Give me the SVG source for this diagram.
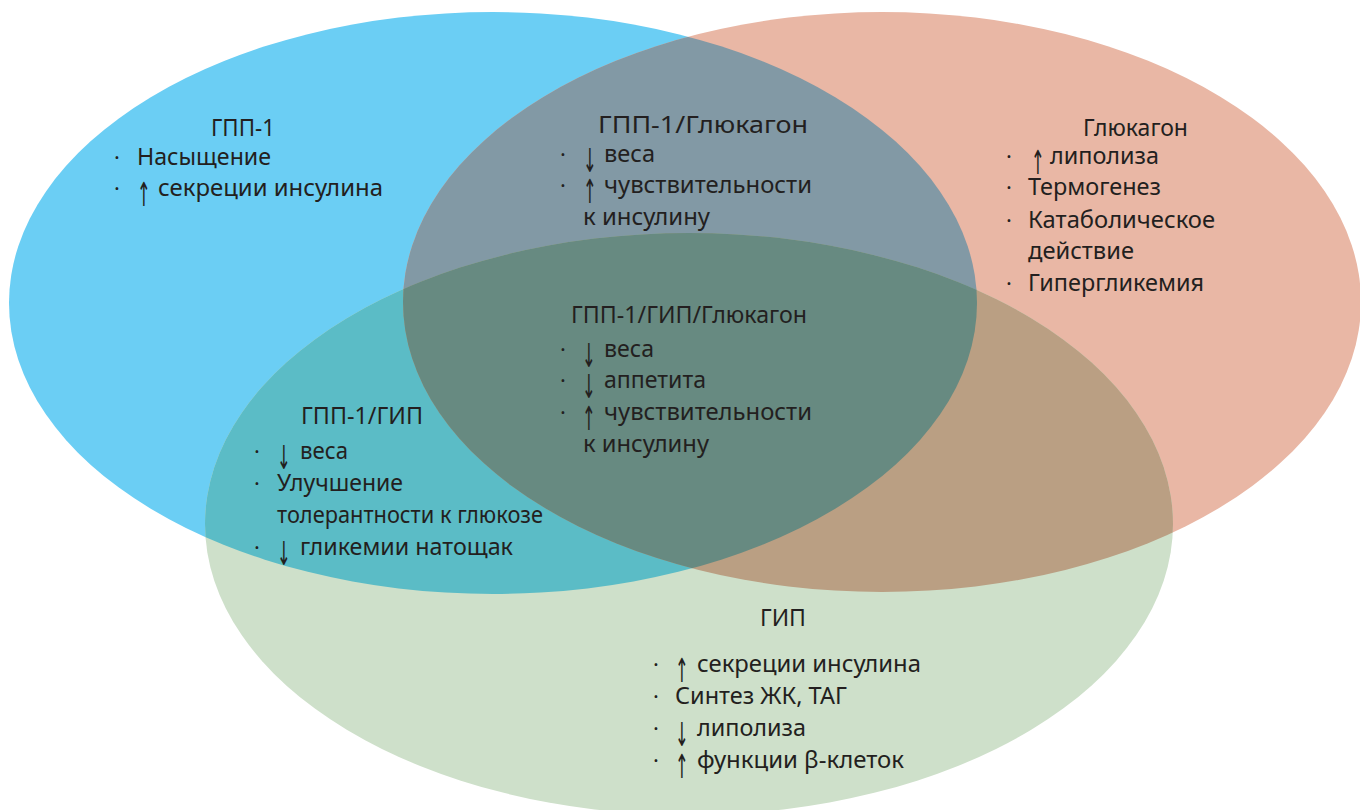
<svg xmlns="http://www.w3.org/2000/svg" width="1360" height="810" viewBox="0 0 1360 810">
<style>
text{font-family:"Noto Sans","Open Sans","Liberation Sans",sans-serif;font-size:23px;fill:#231F20}
.b{font-size:22px}
.a{font-family:"DejaVu Sans",sans-serif;font-size:30px;text-anchor:middle}
</style>
<defs>
<clipPath id="cB"><ellipse cx="493" cy="303" rx="484" ry="291"/></clipPath>
<clipPath id="cS"><ellipse cx="882" cy="302" rx="479" ry="290"/></clipPath>
</defs>
<rect width="1360" height="810" fill="#FFFFFF"/>
<g id="circles">
<ellipse id="e-glp1" cx="493" cy="303" rx="484" ry="291" fill="#6BCEF4"/>
<ellipse id="e-glucagon" cx="882" cy="302" rx="479" ry="290" fill="#E9B7A5"/>
<ellipse id="e-gip" cx="689" cy="524" rx="484" ry="291" fill="#CEE0CA"/>
<ellipse cx="882" cy="302" rx="479" ry="290" fill="#8299A5" clip-path="url(#cB)"/>
<ellipse cx="689" cy="524" rx="484" ry="291" fill="#5BBCC6" clip-path="url(#cB)"/>
<ellipse cx="689" cy="524" rx="484" ry="291" fill="#BA9F83" clip-path="url(#cS)"/>
<g clip-path="url(#cB)"><ellipse cx="689" cy="524" rx="484" ry="291" fill="#678A81" clip-path="url(#cS)"/></g>
</g>
<g id="connectors"/>
<g id="node-glp1">
<text x="211" y="136" textLength="64" lengthAdjust="spacingAndGlyphs">ГПП-1</text>
<text class="b" x="114" y="165">·</text>
<text x="137" y="165" textLength="134" lengthAdjust="spacingAndGlyphs">Насыщение</text>
<text class="b" x="114" y="196">·</text>
<text class="a" transform="translate(144,206) scale(0.55,1.1)">↑</text>
<text x="158" y="196" textLength="225" lengthAdjust="spacingAndGlyphs">секреции инсулина</text>
</g>
<g id="node-glp1-glucagon">
<text x="598" y="133" textLength="210" lengthAdjust="spacingAndGlyphs">ГПП-1/Глюкагон</text>
<text class="b" x="560" y="162">·</text>
<text class="a" transform="translate(590,172) scale(0.55,1.1)">↓</text>
<text x="604" y="162" textLength="51" lengthAdjust="spacingAndGlyphs">веса</text>
<text class="b" x="560" y="193">·</text>
<text class="a" transform="translate(590,203) scale(0.55,1.1)">↑</text>
<text x="604" y="193" textLength="208" lengthAdjust="spacingAndGlyphs">чувствительности</text>
<text x="583" y="225" textLength="127" lengthAdjust="spacingAndGlyphs">к инсулину</text>
</g>
<g id="node-glucagon">
<text x="1083" y="136" textLength="105" lengthAdjust="spacingAndGlyphs">Глюкагон</text>
<text class="b" x="1006" y="164">·</text>
<text class="a" transform="translate(1038,174) scale(0.55,1.1)">↑</text>
<text x="1050" y="164" textLength="109" lengthAdjust="spacingAndGlyphs">липолиза</text>
<text class="b" x="1006" y="195">·</text>
<text x="1028" y="195" textLength="133" lengthAdjust="spacingAndGlyphs">Термогенез</text>
<text class="b" x="1006" y="228">·</text>
<text x="1028" y="228" textLength="187" lengthAdjust="spacingAndGlyphs">Катаболическое</text>
<text x="1028" y="259" textLength="106" lengthAdjust="spacingAndGlyphs">действие</text>
<text class="b" x="1006" y="291">·</text>
<text x="1028" y="291" textLength="176" lengthAdjust="spacingAndGlyphs">Гипергликемия</text>
</g>
<g id="node-triple">
<text x="571" y="323" textLength="236" lengthAdjust="spacingAndGlyphs">ГПП-1/ГИП/Глюкагон</text>
<text class="b" x="560" y="357">·</text>
<text class="a" transform="translate(589,367) scale(0.55,1.1)">↓</text>
<text x="604" y="357" textLength="50" lengthAdjust="spacingAndGlyphs">веса</text>
<text class="b" x="560" y="388">·</text>
<text class="a" transform="translate(589,398) scale(0.55,1.1)">↓</text>
<text x="604" y="388" textLength="102" lengthAdjust="spacingAndGlyphs">аппетита</text>
<text class="b" x="560" y="420">·</text>
<text class="a" transform="translate(589,430) scale(0.55,1.1)">↑</text>
<text x="604" y="420" textLength="208" lengthAdjust="spacingAndGlyphs">чувствительности</text>
<text x="583" y="452" textLength="126" lengthAdjust="spacingAndGlyphs">к инсулину</text>
</g>
<g id="node-glp1-gip">
<text x="301" y="424" textLength="122" lengthAdjust="spacingAndGlyphs">ГПП-1/ГИП</text>
<text class="b" x="254" y="459">·</text>
<text class="a" transform="translate(284,469) scale(0.55,1.1)">↓</text>
<text x="300" y="459" textLength="48" lengthAdjust="spacingAndGlyphs">веса</text>
<text class="b" x="254" y="491">·</text>
<text x="277" y="491" textLength="126" lengthAdjust="spacingAndGlyphs">Улучшение</text>
<text x="277" y="523" textLength="266" lengthAdjust="spacingAndGlyphs">толерантности к глюкозе</text>
<text class="b" x="254" y="555">·</text>
<text class="a" transform="translate(284,565) scale(0.55,1.1)">↓</text>
<text x="300" y="555" textLength="213" lengthAdjust="spacingAndGlyphs">гликемии натощак</text>
</g>
<g id="node-gip">
<text x="760" y="626" textLength="46" lengthAdjust="spacingAndGlyphs">ГИП</text>
<text class="b" x="653" y="672">·</text>
<text class="a" transform="translate(682,682) scale(0.55,1.1)">↑</text>
<text x="697" y="672" textLength="224" lengthAdjust="spacingAndGlyphs">секреции инсулина</text>
<text class="b" x="653" y="704">·</text>
<text x="675" y="704" textLength="172" lengthAdjust="spacingAndGlyphs">Синтез ЖК, ТАГ</text>
<text class="b" x="653" y="736">·</text>
<text class="a" transform="translate(682,746) scale(0.55,1.1)">↓</text>
<text x="697" y="736" textLength="109" lengthAdjust="spacingAndGlyphs">липолиза</text>
<text class="b" x="653" y="768">·</text>
<text class="a" transform="translate(682,778) scale(0.55,1.1)">↑</text>
<text x="697" y="768" textLength="207" lengthAdjust="spacingAndGlyphs">функции β-клеток</text>
</g>
</svg>
